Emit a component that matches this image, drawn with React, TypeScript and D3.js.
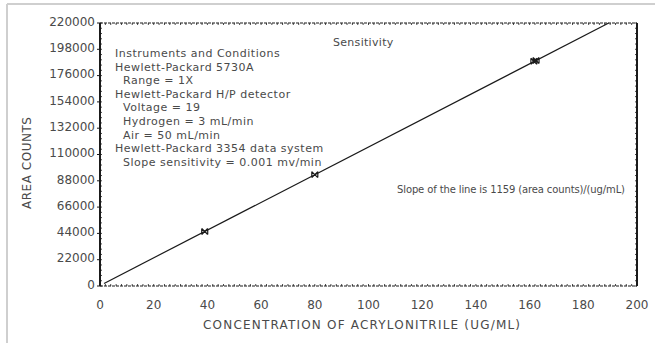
import React from "react";
import * as d3 from "d3";

// Calibration of acrylonitrile: area counts vs concentration (ug/mL)
const xTicks = [0, 20, 40, 60, 80, 100, 120, 140, 160, 180, 200];
const yTicks = [0, 22000, 44000, 66000, 88000, 110000, 132000, 154000, 176000, 198000, 220000];
const standardsConc = [39, 80, 161.6, 162.4];
const standardsArea = [45600, 93200, 188000, 188600];
const slope = 1159;
const intercept = 400;
const lineStart = 1.5;

const conditions = [
  "Instruments and Conditions",
  "Hewlett-Packard 5730A",
  "  Range = 1X",
  "Hewlett-Packard H/P detector",
  "  Voltage = 19",
  "  Hydrogen = 3 mL/min",
  "  Air = 50 mL/min",
  "Hewlett-Packard 3354 data system",
  "  Slope sensitivity = 0.001 mv/min",
];

const W = 655;
const H = 343;
const M = { left: 100, right: 637, top: 23, bottom: 286 };
const FONT = "DejaVu Sans, Verdana, sans-serif";
const TEXT = "#4a4a4a";
const INK = "#1a1a1a";

export default function App() {
  const x = d3.scaleLinear().domain([0, 200]).range([M.left, M.right]);
  const y = d3.scaleLinear().domain([0, 220000]).range([M.bottom, M.top]);

  const lineEnd = (220000 - intercept) / slope;
  const fit = d3
    .line<number>()
    .x((c) => x(c))
    .y((c) => y(slope * c + intercept));
  const fitPath = fit([lineStart, lineEnd]) || "";

  const minorX = d3.range(0, 200.01, 2);
  const minorY = d3.range(0, 220001, 4400);

  return (
    <svg
      width={W}
      height={H}
      style={{ position: "absolute", left: 0, top: 0, background: "#fff" }}
      fontFamily={FONT}
    >
      {/* page border */}
      <line x1={7} y1={4} x2={W} y2={4} stroke="#cfcfcf" strokeWidth={2} />
      <line x1={7} y1={4} x2={7} y2={H} stroke="#cfcfcf" strokeWidth={2} />

      {/* frame */}
      <line x1={M.left} y1={M.top} x2={M.right} y2={M.top} stroke={INK} strokeWidth={1.2} strokeDasharray="3 1" />
      <line x1={M.left} y1={M.bottom} x2={M.right} y2={M.bottom} stroke={INK} strokeWidth={1.2} strokeDasharray="3 1" />
      <line x1={M.left} y1={M.top} x2={M.left} y2={M.bottom} stroke={INK} strokeWidth={2} />
      <line x1={M.right} y1={M.top} x2={M.right} y2={M.bottom} stroke={INK} strokeWidth={2} />

      {/* minor ticks */}
      {minorX.map((v) => (
        <g key={"mx" + v} stroke={INK} strokeWidth={0.8}>
          <line x1={x(v)} x2={x(v)} y1={M.bottom} y2={M.bottom - 2} />
          <line x1={x(v)} x2={x(v)} y1={M.top} y2={M.top + 2} />
        </g>
      ))}
      {minorY.map((v) => (
        <g key={"my" + v} stroke={INK} strokeWidth={0.8}>
          <line x1={M.left} x2={M.left + 2} y1={y(v)} y2={y(v)} />
          <line x1={M.right} x2={M.right - 2} y1={y(v)} y2={y(v)} />
        </g>
      ))}

      {/* major ticks and labels */}
      {yTicks.map((v) => (
        <g key={"y" + v}>
          <line x1={M.left - 3} x2={M.left} y1={y(v)} y2={y(v)} stroke={INK} strokeWidth={1} />
          <text x={M.left - 5} y={y(v) - 1.5} dy="0.35em" textAnchor="end" fontSize={12} fill={TEXT}>
            {v}
          </text>
        </g>
      ))}
      {xTicks.map((v) => (
        <text key={"x" + v} x={x(v)} y={309} textAnchor="middle" fontSize={12} fill={TEXT}>
          {v}
        </text>
      ))}

      {/* axis titles */}
      <text
        transform={`translate(31,163) rotate(-90)`}
        textAnchor="middle"
        fontSize={12}
        fill={TEXT}
        textLength={92}
        lengthAdjust="spacing"
      >
        AREA COUNTS
      </text>
      <text x={203} y={329} fontSize={12} fill={TEXT} textLength={317} lengthAdjust="spacing">
        CONCENTRATION OF ACRYLONITRILE (UG/ML)
      </text>

      {/* fitted line */}
      <path d={fitPath} fill="none" stroke={INK} strokeWidth={1.2} />

      {/* standards */}
      {standardsConc.map((c, i) => {
        const cx = x(c);
        const cy = y(standardsArea[i]);
        const s = 3;
        return (
          <path
            key={"p" + i}
            d={`M${cx - s},${cy - s}L${cx + s},${cy + s}M${cx - s},${cy + s}L${cx + s},${cy - s}M${cx - s},${cy - s}V${cy + s}M${cx + s},${cy - s}V${cy + s}`}
            stroke={INK}
            strokeWidth={1.2}
            fill="none"
          />
        );
      })}

      {/* annotations */}
      <text x={333} y={46} fontSize={11} fill={TEXT} letterSpacing={0.3}>
        Sensitivity
      </text>
      {conditions.map((t, i) => (
        <text
          key={"c" + i}
          x={115}
          y={57 + i * 13.6}
          fontSize={11}
          fill={TEXT}
          letterSpacing={0.5}
          style={{ whiteSpace: "pre" }}
        >
          {t}
        </text>
      ))}
      <text x={397} y={193} fontSize={10} fill={TEXT} textLength={228} lengthAdjust="spacing">
        Slope of the line is 1159 (area counts)/(ug/mL)
      </text>
    </svg>
  );
}
